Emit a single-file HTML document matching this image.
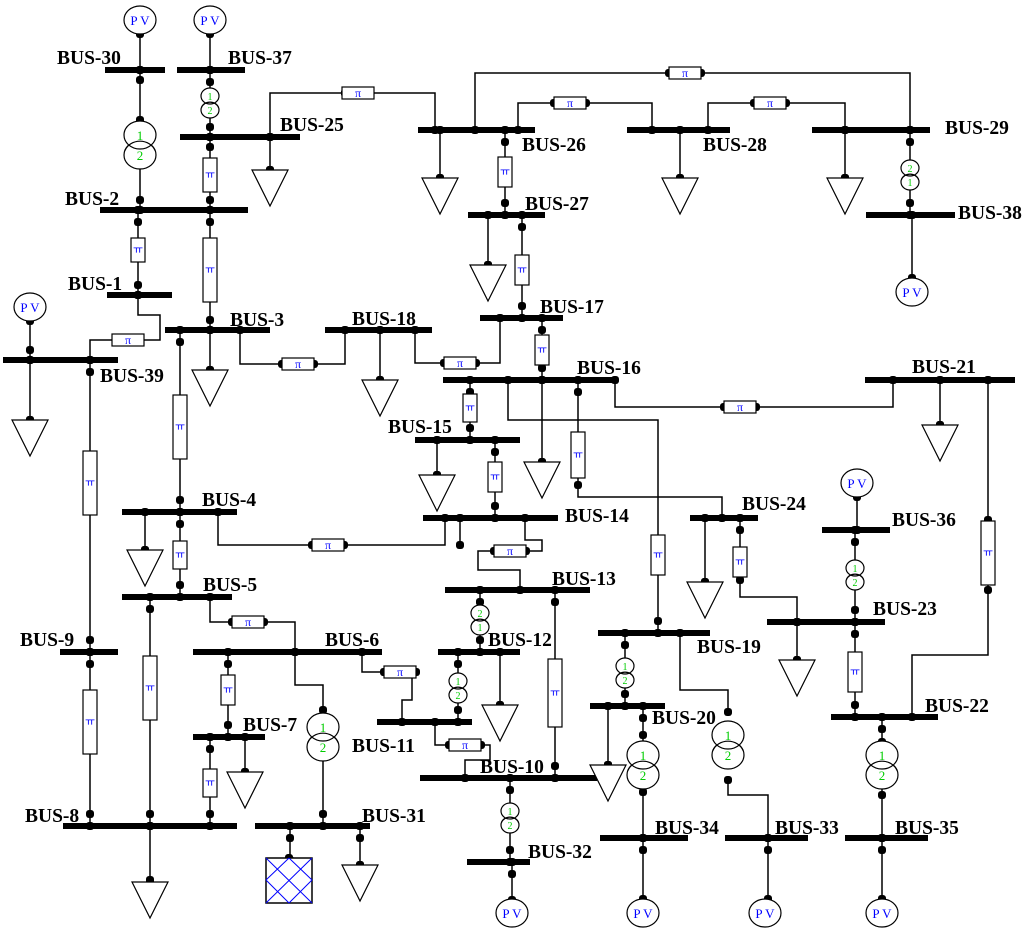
<!DOCTYPE html>
<html><head><meta charset="utf-8"><style>
html,body{margin:0;padding:0;background:#fff}
svg{display:block}
text{font-family:"Liberation Serif",serif;font-weight:bold}
</style></head><body>
<svg id="s" width="1024" height="943" viewBox="0 0 1024 943" xmlns="http://www.w3.org/2000/svg"></svg>
<script>
var s=document.getElementById('s'),h='';
function L(){var a=arguments,p='';for(var i=0;i<a.length;i+=2)p+=a[i]+','+a[i+1]+' ';h+='<polyline points="'+p+'" fill="none" stroke="#000" stroke-width="1.5"/>';
 N(a[0],a[1]);N(a[a.length-2],a[a.length-1]);}
function N(x,y){h+='<rect x="'+(x-4)+'" y="'+(y-4)+'" width="8" height="8" rx="3" fill="#000"/>';}
var bars=[],labs=[];
function B(x1,x2,y,t,lx,ly){bars.push('<rect x="'+x1+'" y="'+(y-3)+'" width="'+(x2-x1)+'" height="6" fill="#000"/>');labs.push('<text x="'+lx+'" y="'+ly+'" font-size="19.5">'+t+'</text>');}
var el=[];
function P(x,y,v,len){len=len||32;if(v){el.push('<rect x="'+(x-7)+'" y="'+(y-len/2)+'" width="14" height="'+len+'" fill="#fff" stroke="#000" stroke-width="1.2"/><text x="'+x+'" y="'+(y+3)+'" font-size="11" fill="#00f" text-anchor="middle" font-family="Liberation Sans" style="font-weight:normal">ㅠ</text>');}
 else{el.push('<rect x="'+(x-16)+'" y="'+(y-6)+'" width="32" height="12" fill="#fff" stroke="#000" stroke-width="1.2"/><text x="'+x+'" y="'+(y+4)+'" font-size="12" fill="#00f" text-anchor="middle" style="font-weight:normal">π</text>');}}
function X(x,y,big,inv){var r=big?16:9,d=big?10:7,fs=big?13:10;var a=inv?'2':'1',b=inv?'1':'2';var ry=big?14:8;
 el.push('<ellipse cx="'+x+'" cy="'+(y+d)+'" rx="'+r+'" ry="'+ry+'" fill="#fff" stroke="#000" stroke-width="1.2"/><ellipse cx="'+x+'" cy="'+(y-d)+'" rx="'+r+'" ry="'+ry+'" fill="#fff" stroke="#000" stroke-width="1.2"/><path d="M'+(x-r*0.95)+','+(y+d-ry*0.3)+' A'+r+','+ry+' 0 0 1 '+(x+r*0.95)+','+(y+d-ry*0.3)+'" fill="none" stroke="#000" stroke-width="1.2"/><text x="'+x+'" y="'+(y-d+fs*0.4)+'" font-size="'+fs+'" fill="#0c0" text-anchor="middle" font-family="Liberation Sans" style="font-weight:normal">'+a+'</text><text x="'+x+'" y="'+(y+d+fs*0.4)+'" font-size="'+fs+'" fill="#0c0" text-anchor="middle" font-family="Liberation Sans" style="font-weight:normal">'+b+'</text>');}
function D(x,y){el.push('<polygon points="'+(x-18)+','+y+' '+(x+18)+','+y+' '+x+','+(y+36)+'" fill="#fff" stroke="#000" stroke-width="1.2"/>');N(x,y);}
function V(x,y){el.push('<ellipse cx="'+x+'" cy="'+y+'" rx="16" ry="14" fill="#fff" stroke="#000" stroke-width="1.2"/><text x="'+x+'" y="'+(y+5)+'" font-size="13" fill="#00f" text-anchor="middle" font-family="Liberation Sans" style="font-weight:normal">P V</text>');}

B(105,165,70,'BUS-30',57,64);B(177,245,70,'BUS-37',228,64);
B(180,300,137,'BUS-25',280,131);B(100,248,210,'BUS-2',65,205);
B(107,172,295,'BUS-1',68,290);B(3,118,360,'BUS-39',100,382);
B(165,270,330,'BUS-3',230,326);B(325,432,330,'BUS-18',352,325);
B(122,237,512,'BUS-4',202,506);B(122,232,597,'BUS-5',203,591);
B(193,382,652,'BUS-6',325,646);B(60,118,652,'BUS-9',20,646);
B(193,265,737,'BUS-7',243,731);B(63,237,826,'BUS-8',25,822);
B(255,370,826,'BUS-31',362,822);B(377,472,722,'BUS-11',352,752);
B(438,520,652,'BUS-12',488,646);B(445,590,590,'BUS-13',552,585);
B(420,597,778,'BUS-10',480,773);B(467,530,862,'BUS-32',528,858);
B(423,558,518,'BUS-14',565,522);B(415,520,440,'BUS-15',388,433);
B(443,612,380,'BUS-16',577,374);B(480,563,318,'BUS-17',540,313);
B(468,545,215,'BUS-27',525,210);B(418,535,130,'BUS-26',522,151);
B(627,730,130,'BUS-28',703,151);B(812,930,130,'BUS-29',945,134);
B(866,955,215,'BUS-38',958,219);B(865,1015,380,'BUS-21',912,373);
B(690,758,518,'BUS-24',742,510);B(767,885,622,'BUS-23',873,615);
B(822,890,530,'BUS-36',892,526);B(831,938,717,'BUS-22',925,712);
B(598,710,633,'BUS-19',697,653);B(590,665,706,'BUS-20',652,724);
B(600,688,838,'BUS-34',655,834);B(725,808,838,'BUS-33',775,834);
B(845,928,838,'BUS-35',895,834);

L(140,34,140,70);L(140,70,140,210);N(140,80);N(140,200);N(140,120);X(140,145,true);
L(210,34,210,70);L(210,70,210,137);N(210,82);N(210,127);X(210,103,false);
L(210,137,210,210);N(210,147);N(210,200);P(210,175,true,34);
L(210,210,210,330);N(210,222);N(210,320);P(210,270,true,64);
L(270,137,270,93,345,93);L(345,93,435,93,435,130);P(358,93,false);
L(270,137,270,170);D(270,170);
L(138,210,138,295);N(138,222);N(138,285);P(138,250,true,24);
L(138,295,138,315,160,315,160,340,140,340);L(116,340,90,340,90,360);P(128,340,false);
L(30,321,30,360);N(30,350);L(30,360,30,420);D(30,420);
L(90,360,90,652);N(90,372);N(90,640);P(90,483,true,64);
L(90,652,90,826);N(90,664);N(90,814);P(90,722,true,64);
L(180,330,180,512);N(180,342);N(180,500);P(180,427,true,64);
L(210,330,210,370);D(210,370);
L(240,330,240,364,282,364);L(314,364,345,364,345,330);P(298,364,false);
L(380,330,380,380);D(380,380);
L(415,330,415,363,444,363);L(476,363,500,363,500,318);P(460,363,false);
L(145,512,145,550);D(145,550);
L(180,512,180,597);N(180,524);N(180,585);P(180,555,true,28);
L(218,512,218,545,312,545);L(344,545,445,545,445,518);P(328,545,false);
L(150,597,150,826);N(150,609);N(150,814);P(150,688,true,64);
L(210,597,210,622,232,622);L(264,622,295,622,295,652);P(248,622,false);
L(228,652,228,737);N(228,664);N(228,725);P(228,690,true,30);
L(245,737,245,772);D(245,772);
L(210,737,210,826);N(210,749);N(210,814);P(210,783,true,28);
L(295,652,295,685,323,685,323,826);N(323,710);N(323,814);X(323,737,true);
L(362,652,362,672,384,672);L(416,672,412,672,412,700,402,700,402,722);P(400,672,false);
L(150,826,150,880);D(150,882);
L(290,826,290,860);N(290,838);L(360,826,360,865);N(360,838);D(360,865);
L(458,722,458,652);N(458,664);N(458,710);X(458,688,false);
L(435,722,435,745,449,745);L(481,745,490,745,490,760,465,760,465,778);P(465,745,false);
L(480,652,480,590);N(480,602);N(480,640);X(480,620,false,true);
L(500,652,500,705);D(500,705);
L(555,590,555,778);N(555,602);N(555,766);P(555,693,true,68);
L(520,590,520,570,478,570,478,551,494,551);L(526,551,542,551,542,540,525,540,525,518);P(510,551,false);
L(460,518,460,545);
L(510,778,510,862);N(510,790);N(510,850);X(510,818,false);
L(512,862,512,900);N(512,874);V(512,913);
L(495,518,495,440);N(495,452);N(495,506);P(495,477,true,30);
L(437,440,437,475);D(437,475);
L(470,440,470,380);N(470,392);N(470,428);P(470,408,true,28);
L(542,380,542,318);N(542,330);N(542,368);P(542,350,true,30);
L(542,380,542,462);D(542,462);
L(508,380,508,420,658,420,658,633);N(658,621);P(658,555,true,40);
L(578,380,578,497,722,497,722,518);N(578,392);N(578,485);P(578,455,true,46);
L(615,380,615,407,724,407);L(756,407,893,407,893,380);P(740,407,false);
L(522,318,522,215);N(522,306);N(522,227);P(522,270,true,30);
L(488,215,488,265);D(488,265);
L(505,215,505,130);N(505,142);N(505,203);P(505,172,true,30);
L(440,130,440,178);D(440,178);
L(475,130,475,73,669,73);L(701,73,910,73,910,130);P(685,73,false);
L(518,130,518,103,554,103);L(586,103,652,103,652,130);P(570,103,false);
L(680,130,680,178);D(680,178);
L(708,130,708,103,754,103);L(786,103,845,103,845,130);P(770,103,false);
L(845,130,845,178);D(845,178);
L(910,130,910,215);N(910,142);N(910,203);X(910,175,false,true);
L(912,215,912,278);V(912,292);
L(940,380,940,425);D(940,425);
L(988,380,988,655,912,655,912,717);N(988,520);N(988,590);P(988,553,true,64);
L(705,518,705,582);D(705,582);
L(740,518,740,597,797,597,797,622);N(740,530);N(740,580);P(740,562,true,30);
L(797,622,797,660);D(797,660);
L(855,622,855,530);N(855,542);N(855,610);X(855,575,false);
L(857,530,857,497);V(857,483);
L(855,622,855,717);N(855,634);N(855,705);P(855,672,true,40);
L(882,717,882,838);N(882,729);N(882,742);N(882,795);X(882,765,true);
L(882,838,882,899);N(882,850);V(882,913);
L(625,633,625,706);N(625,645);N(625,694);X(625,673,false);
L(680,633,680,690,728,690,728,712);L(728,780,728,795,768,795,768,838);X(728,745,true);
L(608,706,608,765);D(608,765);
L(643,706,643,838);N(643,718);N(643,735);N(643,792);X(643,765,true);
L(643,838,643,899);N(643,850);V(643,913);
L(768,838,768,899);N(768,850);V(765,913);
V(140,20);V(210,20);V(30,307);
el.push('<rect x="266" y="858" width="46" height="45" fill="#fff" stroke="#000" stroke-width="1.5"/><g stroke="#00f" stroke-width="1"><path d="M266,858 L312,903 M266,880 L289,903 M289,858 L312,880 M312,858 L266,903 M312,880 L289,903 M289,858 L266,880"/></g>');N(289,858);
s.innerHTML=h+bars.join('')+el.join('')+labs.join('');
</script>
</body></html>
